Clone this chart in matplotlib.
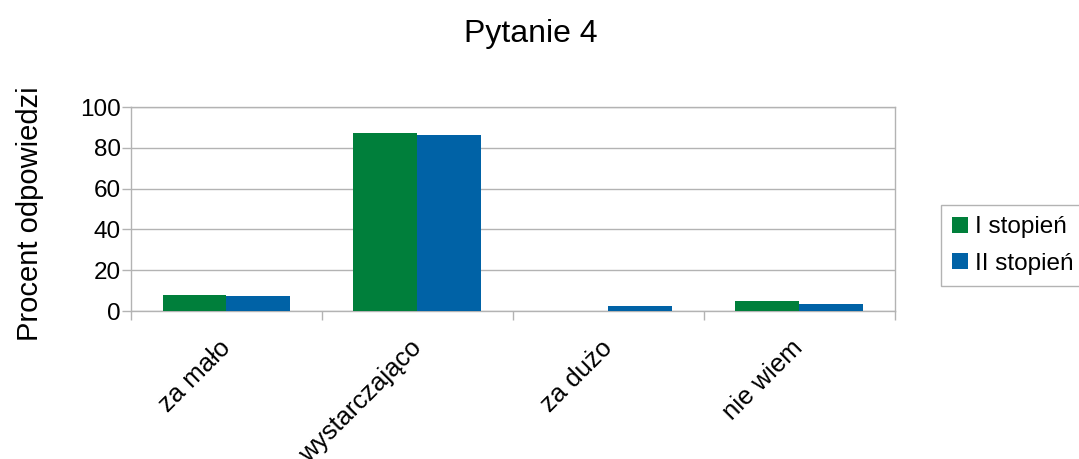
import matplotlib.pyplot as plt
import numpy as np

plt.rcParams['font.family'] = ['Liberation Sans', 'DejaVu Sans']

categories = ["za mało", "wystarczająco", "za dużo", "nie wiem"]
series_names = ["I stopień", "II stopień"]
stopien_1 = [7.8, 87.2, 0.0, 4.9]
stopien_2 = [7.4, 86.2, 2.6, 3.4]
colors = ["#007f3b", "#0062a6"]
grey = "#b3b3b3"

fig = plt.figure(figsize=(10.79, 4.59), dpi=100)
ax = fig.add_axes([0.1214, 0.3224, 0.708, 0.4444])

x = np.arange(len(categories))
w = 0.335
ax.bar(x - w / 2, stopien_1, w, color=colors[0], label=series_names[0], zorder=3)
ax.bar(x + w / 2, stopien_2, w, color=colors[1], label=series_names[1], zorder=3)

ax.set_xlim(-0.5, len(categories) - 0.5)
ax.set_ylim(0, 100)
ax.set_yticks(np.arange(0, 101, 20))
ax.yaxis.grid(True, color=grey, linewidth=1)
ax.set_axisbelow(True)

ax.set_xticks(x)
ax.set_xticklabels(categories, rotation=45, ha="right", va="center",
                   rotation_mode="anchor", fontsize=18.5)
ax.set_xticks(np.arange(-0.5, len(categories), 1), minor=True)
ax.tick_params(axis="x", which="major", length=0, pad=24)
ax.tick_params(axis="x", which="minor", length=6.5, color=grey, width=1)
ax.tick_params(axis="y", length=6.5, color=grey, width=1, labelsize=17.5, pad=1)

for s in ax.spines.values():
    s.set_color(grey)
    s.set_linewidth(1)

fig.text(0.492, 0.925, "Pytanie 4", ha="center", va="center", fontsize=23)
fig.text(0.028, 0.534, "Procent odpowiedzi", rotation=90, ha="center",
         va="center", fontsize=21)

leg = fig.legend(loc="center left", bbox_to_anchor=(0.872, 0.465), fontsize=17.5,
                 handlelength=0.65, handleheight=0.65, handletextpad=0.3,
                 fancybox=False, framealpha=1, edgecolor=grey,
                 borderpad=0.45, labelspacing=0.6, borderaxespad=0)
leg.get_frame().set_linewidth(1)

fig.savefig("out.png", dpi=100)
